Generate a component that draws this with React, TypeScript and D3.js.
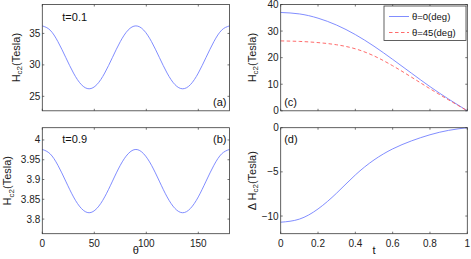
import * as d3 from 'd3'

// theta sweep (deg) for panels (a) and (b)
const thetaDeg = [0, 7.5, 15, 22.5, 30, 37.5, 45, 52.5, 60, 67.5, 75, 82.5, 90, 97.5, 105, 112.5, 120, 127.5, 135, 142.5, 150, 157.5, 165, 172.5, 180]
const hc2LowT = [36.2, 35.53, 33.7, 31.2, 28.7, 26.87, 26.2, 26.87, 28.7, 31.2, 33.7, 35.53, 36.2, 35.53, 33.7, 31.2, 28.7, 26.87, 26.2, 26.87, 28.7, 31.2, 33.7, 35.53, 36.2]
const hc2HighT = [3.976, 3.965, 3.936, 3.896, 3.856, 3.827, 3.816, 3.827, 3.856, 3.896, 3.936, 3.965, 3.976, 3.965, 3.936, 3.896, 3.856, 3.827, 3.816, 3.827, 3.856, 3.896, 3.936, 3.965, 3.976]

// reduced temperature sweep for panels (c) and (d)
const tValues = [0, 0.1, 0.2, 0.3, 0.4, 0.5, 0.6, 0.7, 0.8, 0.9, 1]
const hc2Theta0 = [37, 36.46, 34.86, 32.24, 28.68, 24.3, 19.35, 14.2, 9.1, 4.4, 0]
const hc2Theta45 = [26.3, 26.11, 25.66, 24.84, 23.33, 20.65, 16.95, 12.7, 8.3, 4.1, 0]
const deltaHc2 = [-10.7, -10.35, -9.2, -7.4, -5.35, -3.65, -2.4, -1.5, -0.8, -0.3, 0]

const thetaTicks = [0, 50, 100, 150]
const tTicks = [0, 0.2, 0.4, 0.6, 0.8, 1]
const yTicksA = [25, 30, 35]
const yTicksB = [3.8, 3.85, 3.9, 3.95, 4]
const yTicksC = [0, 10, 20, 30, 40]
const yTicksD = [-10, -5, 0]

const legendLabels = ['θ=0(deg)', 'θ=45(deg)']

const FONT = 'Liberation Sans, Arial, sans-serif'
const BLUE = '#6a79ff'
const RED = '#ff5050'
const AXIS = '#3a3a3a'

interface Series {
  x: number[]
  y: number[]
  color: string
  dash?: string
}

interface PanelProps {
  left: number
  right: number
  top: number
  bottom: number
  xDomain: [number, number]
  yDomain: [number, number]
  xTicks: number[]
  yTicks: number[]
  showXLabels: boolean
  series: Series[]
  yLabel: React.ReactNode
  yLabelOffset: number
  children?: React.ReactNode
}

function Panel({ left, right, top, bottom, xDomain, yDomain, xTicks, yTicks, showXLabels, series, yLabel, yLabelOffset, children }: PanelProps) {
  const x = d3.scaleLinear(xDomain, [left, right])
  const y = d3.scaleLinear(yDomain, [bottom, top])
  const tl = 2
  const fmt = (v: number) => String(v).replace('-', '\u2212')
  return (
    <g>
      {series.map((s, i) => {
        const line = d3.line<number>((_, j) => x(s.x[j]), (v) => y(v)).curve(d3.curveNatural)
        return <path key={i} d={line(s.y) || undefined} fill="none" stroke={s.color} strokeWidth={0.85} strokeDasharray={s.dash} />
      })}
      <rect x={left} y={top} width={right - left} height={bottom - top} fill="none" stroke={AXIS} strokeWidth={0.8} />
      <g stroke={AXIS} strokeWidth={0.7}>
        {xTicks.map((v) => (
          <g key={v}>
            <line x1={x(v)} x2={x(v)} y1={bottom} y2={bottom - tl} />
            <line x1={x(v)} x2={x(v)} y1={top} y2={top + tl} />
          </g>
        ))}
        {yTicks.map((v) => (
          <g key={v}>
            <line x1={left} x2={left + tl} y1={y(v)} y2={y(v)} />
            <line x1={right} x2={right - tl} y1={y(v)} y2={y(v)} />
          </g>
        ))}
      </g>
      <g fontFamily={FONT} fontSize={10} fill="#222">
        {yTicks.map((v) => (
          <text key={v} x={left - 2} y={y(v) + 3.5} textAnchor="end">{fmt(v)}</text>
        ))}
        {showXLabels && xTicks.map((v) => (
          <text key={v} x={x(v)} y={bottom + 13} textAnchor="middle">{String(v)}</text>
        ))}
      </g>
      <text transform={`translate(${left - yLabelOffset},${(top + bottom) / 2}) rotate(-90)`} textAnchor="middle" fontFamily={FONT} fontSize={11} fill="#222">
        {yLabel}
      </text>
      {children}
    </g>
  )
}

const hLabel = (prefix: string) => (
  <>
    {prefix}H<tspan fontSize={8} dy={2.5}>c2</tspan><tspan dy={-2.5}>(Tesla)</tspan>
  </>
)

export default function App() {
  const width = 471
  const height = 259
  const lx0 = 42.3
  const lx1 = 229.5
  const rx0 = 280.7
  const rx1 = 467.3
  const ty0 = 4.5
  const ty1 = 110.8
  const by0 = 127.7
  const by1 = 233.7
  const txt = { fontFamily: FONT, fontSize: 11, fill: '#111' }

  return (
    <svg width={width} height={height} viewBox={`0 0 ${width} ${height}`} style={{ position: 'absolute', left: 0, top: 0, background: '#fff' }}>
      <Panel left={lx0} right={lx1} top={ty0} bottom={ty1} xDomain={[0, 180]} yDomain={[22.7, 39.6]}
        xTicks={thetaTicks} yTicks={yTicksA} showXLabels={false}
        series={[{ x: thetaDeg, y: hc2LowT, color: BLUE }]} yLabel={hLabel('')} yLabelOffset={22.8}>
        <text x={lx0 + 20} y={ty0 + 16.5} {...txt}>t=0.1</text>
        <text x={lx1 - 3} y={ty1 - 5} textAnchor="end" {...txt}>(a)</text>
      </Panel>
      <Panel left={lx0} right={lx1} top={by0} bottom={by1} xDomain={[0, 180]} yDomain={[3.763, 4.031]}
        xTicks={thetaTicks} yTicks={yTicksB} showXLabels={true}
        series={[{ x: thetaDeg, y: hc2HighT, color: BLUE }]} yLabel={hLabel('')} yLabelOffset={31.3}>
        <text x={lx0 + 20} y={by0 + 15.5} {...txt}>t=0.9</text>
        <text x={lx1 - 3} y={by0 + 15} textAnchor="end" {...txt}>(b)</text>
        <text x={(lx0 + lx1) / 2} y={253.5} textAnchor="middle" {...txt}>θ</text>
      </Panel>
      <Panel left={rx0} right={rx1} top={ty0} bottom={ty1} xDomain={[0, 1]} yDomain={[0, 40]}
        xTicks={tTicks} yTicks={yTicksC} showXLabels={false}
        series={[
          { x: tValues, y: hc2Theta0, color: BLUE },
          { x: tValues, y: hc2Theta45, color: RED, dash: '3.5,2.5' },
        ]} yLabel={hLabel('')} yLabelOffset={25.2}>
        <text x={rx0 + 3.5} y={ty1 - 5} {...txt}>(c)</text>
        <rect x={384} y={6} width={82} height={34.5} fill="#fff" stroke={AXIS} strokeWidth={0.8} />
        {legendLabels.map((label, i) => (
          <g key={label}>
            <line x1={389} x2={409} y1={16.5 + i * 16} y2={16.5 + i * 16} stroke={i === 0 ? BLUE : RED} strokeWidth={0.85} strokeDasharray={i === 0 ? undefined : '3.5,2.5'} />
            <text x={412} y={20 + i * 16} fontFamily={FONT} fontSize={9.5} fill="#111">{label}</text>
          </g>
        ))}
      </Panel>
      <Panel left={rx0} right={rx1} top={by0} bottom={by1} xDomain={[0, 1]} yDomain={[-12, 0]}
        xTicks={tTicks} yTicks={yTicksD} showXLabels={true}
        series={[{ x: tValues, y: deltaHc2, color: BLUE }]} yLabel={hLabel('Δ ')} yLabelOffset={25.2}>
        <text x={rx0 + 3.5} y={by0 + 15} {...txt}>(d)</text>
        <text x={(rx0 + rx1) / 2} y={253.5} textAnchor="middle" {...txt}>t</text>
      </Panel>
    </svg>
  )
}
